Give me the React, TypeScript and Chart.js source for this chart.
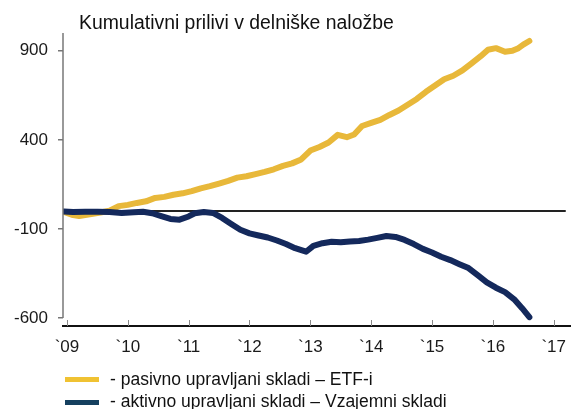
import React, { useEffect, useRef } from "react";
import { Chart, registerables } from "chart.js";

Chart.register(...registerables);

const chartTitle = "Kumulativni prilivi v delniške naložbe";
const seriesNames = [
  "- pasivno upravljani skladi – ETF-i",
  "- aktivno upravljani skladi – Vzajemni skladi",
];
const seriesColors = ["#E8B83A", "#14295C"];
const legendColors = ["#F0C232", "#15405F"];

const etfYears = [
  2008.95, 2009.1, 2009.2, 2009.4, 2009.55, 2009.7, 2009.85, 2010.0, 2010.15, 2010.3,
  2010.45, 2010.6, 2010.75, 2010.9, 2011.05, 2011.2, 2011.35, 2011.5, 2011.65, 2011.8,
  2011.95, 2012.1, 2012.25, 2012.4, 2012.55, 2012.7, 2012.85, 2013.0, 2013.15, 2013.3,
  2013.45, 2013.6, 2013.72, 2013.85, 2014.0, 2014.15, 2014.3, 2014.45, 2014.6, 2014.75,
  2014.9, 2015.05, 2015.2, 2015.35, 2015.5, 2015.65, 2015.8, 2015.92, 2016.05, 2016.2,
  2016.32, 2016.42, 2016.5, 2016.6,
];
const etfValues = [
  -5, -22, -28, -16, -8, 2, 28, 35, 46, 55,
  74, 80, 92, 100, 112, 128, 140, 155, 170, 188,
  196, 208, 220, 235, 254, 268, 290, 340, 360, 385,
  428, 415, 430, 478, 495, 512, 540, 565, 597, 630,
  670, 705, 740, 760, 790, 830, 870, 906, 915, 895,
  900, 915, 935, 955,
];

const mfYears = [
  2008.95, 2009.1, 2009.3, 2009.5, 2009.7, 2009.9, 2010.1, 2010.25, 2010.4, 2010.55,
  2010.7, 2010.85, 2011.0, 2011.1, 2011.25, 2011.4, 2011.55, 2011.7, 2011.85, 2012.0,
  2012.15, 2012.3, 2012.45, 2012.6, 2012.75, 2012.93, 2013.05, 2013.2, 2013.35, 2013.5,
  2013.65, 2013.8, 2013.95, 2014.1, 2014.25, 2014.4, 2014.55, 2014.7, 2014.85, 2015.0,
  2015.15, 2015.3, 2015.45, 2015.6, 2015.75, 2015.9, 2016.05, 2016.2, 2016.35, 2016.48,
  2016.6,
];
const mfValues = [
  -2, -5, -4, -3, -5, -10, -6, -4, -12, -28,
  -44, -48, -30, -12, -5, -10, -38, -72, -105, -125,
  -137, -148, -165, -185, -208, -228, -195, -180, -172, -175,
  -170, -168, -160, -150, -140, -145, -162, -185, -212, -232,
  -256, -275, -298, -320, -360, -400, -430, -455, -495, -545,
  -595,
];

const xTickYears = [2009, 2010, 2011, 2012, 2013, 2014, 2015, 2016, 2017];
const xTickLabels = ["`09", "`10", "`11", "`12", "`13", "`14", "`15", "`16", "`17"];
const yTickValues = [900, 400, -100, -600];

const FONT = "'Liberation Sans', Arial, sans-serif";

const decorPlugin = {
  id: "decor",
  beforeDatasetsDraw(chart: any) {
    const { ctx, chartArea, scales } = chart;
    const y0 = scales.y.getPixelForValue(0);
    ctx.save();
    ctx.strokeStyle = "#222";
    ctx.lineWidth = 2;
    ctx.beginPath();
    ctx.moveTo(chartArea.left, y0);
    ctx.lineTo(chartArea.right - 5, y0);
    ctx.stroke();
    ctx.restore();
  },
  afterDraw(chart: any) {
    const { ctx, chartArea, scales } = chart;
    ctx.save();
    ctx.strokeStyle = "#777";
    ctx.lineWidth = 1.5;
    ctx.beginPath();
    ctx.moveTo(chartArea.left, chartArea.top);
    ctx.lineTo(chartArea.left, scales.y.getPixelForValue(yTickValues[yTickValues.length - 1]));
    ctx.stroke();
    ctx.strokeStyle = "#888";
    ctx.lineWidth = 1;
    xTickYears.forEach((yr) => {
      const x = Math.round(scales.x.getPixelForValue(yr)) + 0.5;
      ctx.beginPath();
      ctx.moveTo(x, chartArea.bottom - 6);
      ctx.lineTo(x, chartArea.bottom);
      ctx.stroke();
    });
    ctx.restore();
  },
};

export default function App() {
  const canvasRef = useRef<HTMLCanvasElement | null>(null);

  useEffect(() => {
    if (!canvasRef.current) return;
    const chart = new Chart(canvasRef.current, {
      type: "line",
      data: {
        datasets: [
          {
            label: seriesNames[1],
            data: mfYears.map((x, i) => ({ x, y: mfValues[i] })),
            borderColor: seriesColors[1],
            borderWidth: 6,
            pointRadius: 0,
            tension: 0,
            borderJoinStyle: "round",
            borderCapStyle: "round",
          },
          {
            label: seriesNames[0],
            data: etfYears.map((x, i) => ({ x, y: etfValues[i] })),
            borderColor: seriesColors[0],
            borderWidth: 6,
            pointRadius: 0,
            tension: 0,
            borderJoinStyle: "round",
            borderCapStyle: "round",
          },
        ],
      },
      options: {
        animation: false,
        responsive: false,
        layout: { padding: { top: 33, left: 0, right: 0, bottom: 0 } },
        plugins: { legend: { display: false }, tooltip: { enabled: false }, title: { display: false } },
        scales: {
          x: {
            type: "linear",
            min: 2008.935,
            max: 2017.28,
            afterFit: (scale: any) => {
              scale.height = 83;
            },
            afterBuildTicks: (scale: any) => {
              scale.ticks = xTickYears.map((v) => ({ value: v }));
            },
            grid: { display: false, drawTicks: false },
            border: { display: true, color: "#111", width: 2 },
            ticks: {
              autoSkip: false,
              maxRotation: 0,
              padding: 11,
              color: "#1a1a1a",
              font: { family: FONT, size: 17 },
              callback: (v: any) => {
                const i = xTickYears.indexOf(Number(v));
                return i >= 0 ? xTickLabels[i] : "";
              },
            },
          },
          y: {
            type: "linear",
            min: -645,
            max: 1000,
            afterFit: (scale: any) => {
              scale.width = 63;
            },
            afterBuildTicks: (scale: any) => {
              scale.ticks = yTickValues.map((v) => ({ value: v }));
            },
            grid: {
              display: true,
              drawOnChartArea: false,
              drawTicks: true,
              tickLength: 5,
              color: "#777",
              lineWidth: 1.5,
            },
            border: { display: false },
            ticks: {
              padding: 10,
              color: "#1a1a1a",
              font: { family: FONT, size: 17 },
              callback: (v: any) => String(v),
            },
          },
        },
      },
      plugins: [decorPlugin],
    });
    return () => chart.destroy();
  }, []);

  return (
    <div
      style={{
        position: "fixed",
        left: 0,
        top: 0,
        width: 577,
        height: 409,
        overflow: "hidden",
        background: "#fff",
        fontFamily: FONT,
      }}
    >
      <canvas ref={canvasRef} width={577} height={409} style={{ position: "absolute", left: 0, top: 0 }} />
      <div
        style={{
          position: "absolute",
          left: 79,
          top: 13,
          fontSize: 19.4,
          lineHeight: "19px",
          color: "#111",
          whiteSpace: "nowrap",
        }}
      >
        {chartTitle}
      </div>
      {seriesNames.map((name, i) => (
        <React.Fragment key={name}>
          <div
            style={{
              position: "absolute",
              left: 65,
              top: 377 + i * 22.5,
              width: 34,
              height: 5,
              background: legendColors[i],
            }}
          />
          <div
            style={{
              position: "absolute",
              left: 110,
              top: 371 + i * 22,
              fontSize: 17.5,
              lineHeight: "17px",
              color: "#111",
              whiteSpace: "nowrap",
            }}
          >
            {name}
          </div>
        </React.Fragment>
      ))}
    </div>
  );
}
